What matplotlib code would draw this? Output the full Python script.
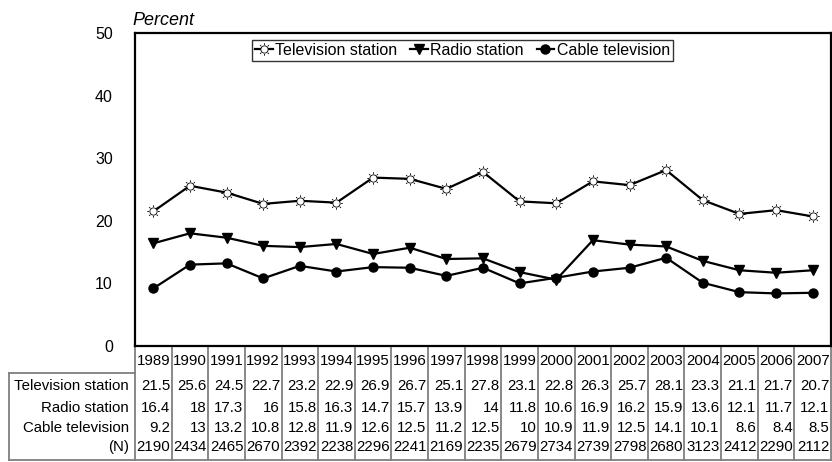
import numpy as np
import matplotlib.pyplot as plt
from matplotlib.path import Path
from matplotlib.transforms import blended_transform_factory

plt.rcParams['font.family'] = ['Liberation Sans', 'DejaVu Sans']

years = [1989, 1990, 1991, 1992, 1993, 1994, 1995, 1996, 1997, 1998,
         1999, 2000, 2001, 2002, 2003, 2004, 2005, 2006, 2007]
tv_station = [21.5, 25.6, 24.5, 22.7, 23.2, 22.9, 26.9, 26.7, 25.1, 27.8,
              23.1, 22.8, 26.3, 25.7, 28.1, 23.3, 21.1, 21.7, 20.7]
radio_station = [16.4, 18, 17.3, 16, 15.8, 16.3, 14.7, 15.7, 13.9, 14,
                 11.8, 10.6, 16.9, 16.2, 15.9, 13.6, 12.1, 11.7, 12.1]
cable_tv = [9.2, 13, 13.2, 10.8, 12.8, 11.9, 12.6, 12.5, 11.2, 12.5,
            10, 10.9, 11.9, 12.5, 14.1, 10.1, 8.6, 8.4, 8.5]
n_counts = [2190, 2434, 2465, 2670, 2392, 2238, 2296, 2241, 2169, 2235,
            2679, 2734, 2739, 2798, 2680, 3123, 2412, 2290, 2112]
row_labels = ['Television station', 'Radio station', 'Cable television', '(N)']

W, H = 832, 462
fig = plt.figure(figsize=(W / 100, H / 100), dpi=100)
ax_l, ax_r, ax_t, ax_b = 135, 831, 33, 346
ax = fig.add_axes([ax_l / W, 1 - ax_b / H, (ax_r - ax_l) / W, (ax_b - ax_t) / H])

# sun-like marker: circle plus short spikes
verts, codes = [], []
circ = Path.circle((0, 0), 0.58)
verts += list(circ.vertices)
codes += list(circ.codes)
for a in np.arange(0, 2 * np.pi, np.pi / 4):
    verts += [(0.72 * np.cos(a), 0.72 * np.sin(a)), (1.0 * np.cos(a), 1.0 * np.sin(a))]
    codes += [Path.MOVETO, Path.LINETO]
sun = Path(verts, codes)

x = np.arange(len(years))
ax.plot(x, tv_station, color='black', lw=1.6, marker=sun, ms=9,
        mfc='white', mec='black', mew=0.6, label='Television station')
ax.plot(x, radio_station, color='black', lw=1.6, marker='v', ms=7.5,
        mfc='black', mec='black', label='Radio station')
ax.plot(x, cable_tv, color='black', lw=1.6, marker='o', ms=6.5,
        mfc='black', mec='black', label='Cable television')

ax.set_xlim(-0.5, len(years) - 0.5)
ax.set_ylim(0, 50)
ax.set_yticks([0, 10, 20, 30, 40, 50])
ax.set_xticks([])
ax.tick_params(axis='y', length=0, pad=16, labelsize=11.5)
for s in ax.spines.values():
    s.set_linewidth(1.6)
    s.set_color('black')

ax.text(-0.004, 1.012, 'Percent', transform=ax.transAxes, style='italic',
        fontsize=13, ha='left', va='bottom')

leg = ax.legend(loc='upper center', bbox_to_anchor=(0.4706, 0.978), ncol=3,
                frameon=True, fancybox=False, fontsize=11.5, handlelength=1.1,
                handletextpad=0.15, columnspacing=0.8, borderaxespad=0,
                borderpad=0.2)
leg.get_frame().set_edgecolor('black')
leg.get_frame().set_linewidth(1.0)

# data table under the axes
tr = blended_transform_factory(ax.transData, fig.transFigure)
def fy(py):
    return 1 - py / H

year_y = 361
row_y = [386, 408, 428, 447]
table_bottom = 460
label_top = 373
grid_c = '#7f7f7f'
fs = 10.8

for i, yr in enumerate(years):
    fig.text(i, fy(year_y), str(yr), transform=tr, ha='center', va='center', fontsize=fs)
rows = [tv_station, radio_station, cable_tv, n_counts]
for vals, py in zip(rows, row_y):
    for i, v in enumerate(vals):
        fig.text(i + 0.46, fy(py), f'{v:g}', transform=tr, ha='right', va='center', fontsize=fs)
for lab, py in zip(row_labels, row_y):
    fig.text(129 / W, fy(py), lab, ha='right', va='center', fontsize=fs)

# grid lines of the table
for i in range(len(years) + 1):
    ax.plot([i - 0.5, i - 0.5], [fy(ax_b), fy(table_bottom)], transform=tr,
            color=grid_c, lw=1.3, clip_on=False)
fig.add_artist(plt.Line2D([9 / W, 9 / W], [fy(label_top), fy(table_bottom)],
                          color=grid_c, lw=1.3))
fig.add_artist(plt.Line2D([9 / W, ax_l / W], [fy(label_top), fy(label_top)],
                          color=grid_c, lw=1.3))
fig.add_artist(plt.Line2D([9 / W, ax_r / W], [fy(table_bottom), fy(table_bottom)],
                          color=grid_c, lw=1.3))

fig.savefig('out.png', dpi=100)
